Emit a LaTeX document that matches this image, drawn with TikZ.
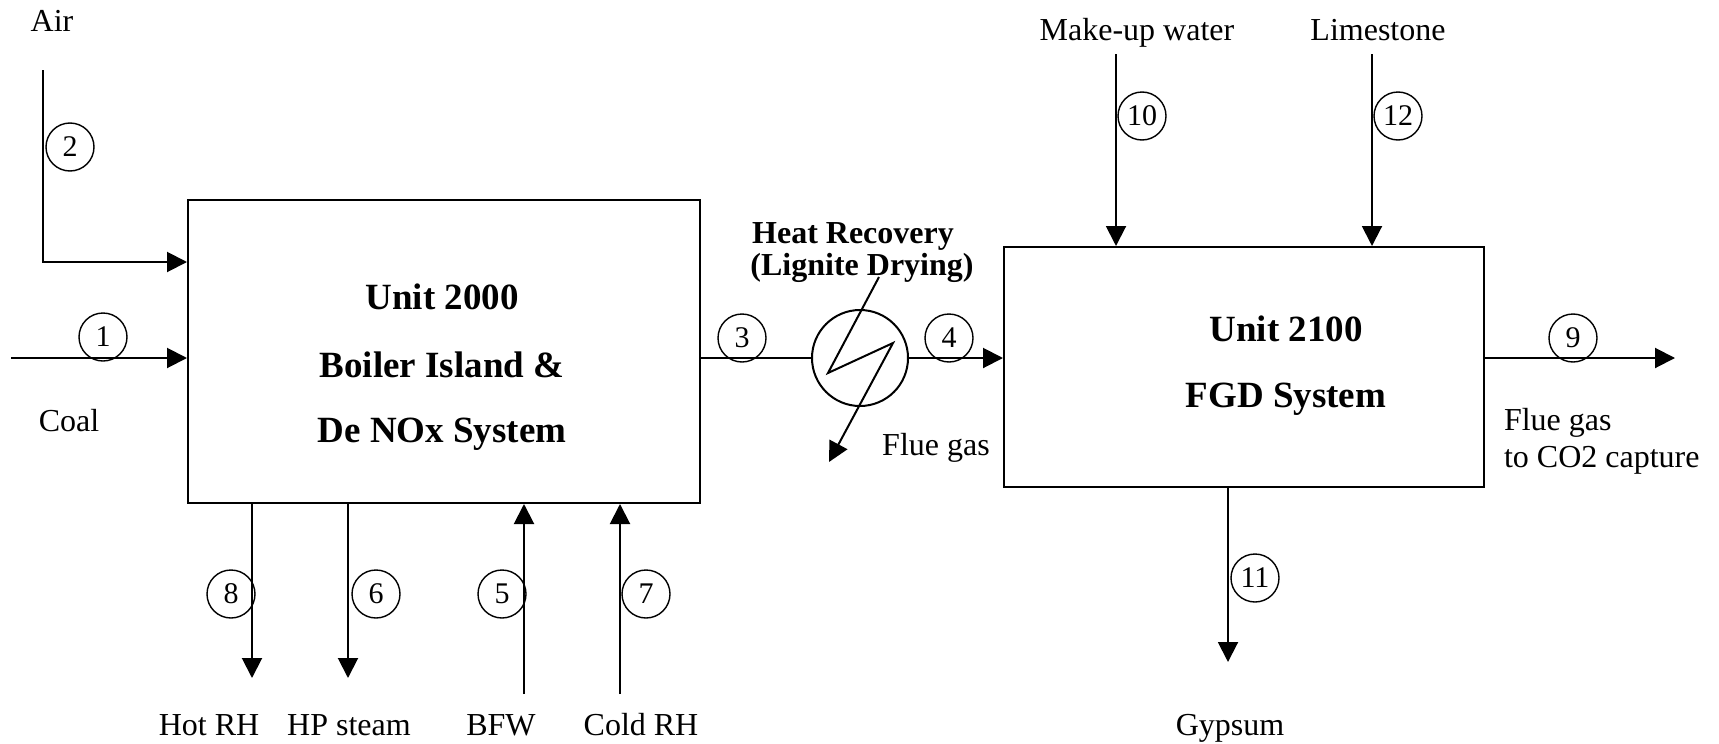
\documentclass[tikz,border=0pt]{standalone}
\usepackage{fontspec}
\setmainfont{Liberation Serif}
\usetikzlibrary{arrows.meta, calc}

\begin{document}
\begin{tikzpicture}[x=0.5pt, y=-0.5pt, line width=1pt,
    >={Triangle[length=10pt, width=10pt]},
    unitbox/.style={draw, inner sep=0pt},
    num/.style={circle, draw, line width=0.7pt, minimum size=24pt, inner sep=0pt,
        font=\fontsize{15}{17}\selectfont},
    txt/.style={anchor=base, inner sep=0pt, font=\fontsize{16}{18}\selectfont},
    btxt/.style={anchor=base, inner sep=0pt, font=\fontsize{18.5}{22}\selectfont\bfseries}]

    \useasboundingbox (0,0) rectangle (1719,744);

    % 1. Units
    \node[unitbox, minimum width=256pt, minimum height=151.5pt] (boiler) at (444,351.5) {};
    \node[unitbox, minimum width=240pt, minimum height=120pt] (fgd) at (1244,367) {};
    \node[circle, draw, minimum size=48pt, inner sep=0pt] (hx) at (860,358) {};

    \node[btxt] (u1a) at (442,309) {Unit 2000};
    \node[btxt] (u1b) at (442,377) {Boiler Island \&};
    \node[btxt] (u1c) at (442,442) {De NOx System};
    \node[btxt] (u2a) at (1286,341) {Unit 2100};
    \node[btxt] (u2b) at (1286,407) {FGD System};
    \node[txt, font=\fontsize{16}{18}\selectfont\bfseries] (hxa) at (853,243) {Heat Recovery};
    \node[txt, font=\fontsize{16}{18}\selectfont\bfseries] (hxb) at (862,275) {(Lignite Drying)};

    % 2. Main gas path
    \coordinate (coal) at (11,358);
    \coordinate (air) at (43,70);
    \coordinate (stack) at (1675,358);
    \draw[->] (coal) -- (coal -| boiler.west);
    \draw[->] (air) |- ([yshift=-31.5pt]boiler.north west);
    \draw (hx -| boiler.east) -- (hx.west);
    \draw[->] (hx.east) -- (hx -| fgd.west);
    \draw[->] (stack -| fgd.east) -- (stack);

    % 3. Drying medium through the heat exchanger
    \coordinate (dr1) at (879,277);
    \coordinate (dr2) at (828,373);
    \coordinate (dr3) at (893,343);
    \coordinate (dr4) at (829,462);
    \draw[->] (dr1) -- (dr2) -- (dr3) -- (dr4);

    % 4. Steam side of the boiler
    \foreach \x in {252,348} {
        \draw[->] (\x,0 |- boiler.south) -- (\x,678);
    }
    \foreach \x in {524,620} {
        \draw[->] (\x,694) -- (\x,0 |- boiler.south);
    }

    % 5. FGD feeds and product
    \coordinate (water) at (1116,54);
    \coordinate (lime) at (1372,54);
    \coordinate (gyp) at (1228,662);
    \draw[->] (water) -- (water |- fgd.north);
    \draw[->] (lime) -- (lime |- fgd.north);
    \draw[->] (gyp |- fgd.south) -- (gyp);

    % 6. Stream numbers
    \foreach \n/\x/\y in {1/103/337, 2/70/147, 3/742/338, 4/949/338,
        5/502/594, 6/376/594, 7/646/594, 8/231/594,
        9/1573/338, 10/1142/116, 11/1255/578, 12/1398/116} {
        \node[num] (s\n) at (\x,\y) {\n};
    }

    % 7. Stream names
    \node[txt] (airlbl) at (52,32) {Air};
    \node[txt] (coallbl) at (69,431) {Coal};
    \node[txt] (fluelbl) at (936,455) {Flue gas};
    \node[txt] (waterlbl) at (1137,40) {Make-up water};
    \node[txt] (limelbl) at (1378,40) {Limestone};
    \node[txt, anchor=base west] (stacka) at (1503,430) {Flue gas};
    \node[txt, anchor=base west] (stackb) at (1503,467) {to CO2 capture};
    \node[txt] (gyplbl) at (1230,735) {Gypsum};
    \node[txt] (hotrh) at (209,735) {Hot RH};
    \node[txt] (hpst) at (349,735) {HP steam};
    \node[txt] (bfw) at (501,735) {BFW};
    \node[txt] (coldrh) at (641,735) {Cold RH};
\end{tikzpicture}
\end{document}
